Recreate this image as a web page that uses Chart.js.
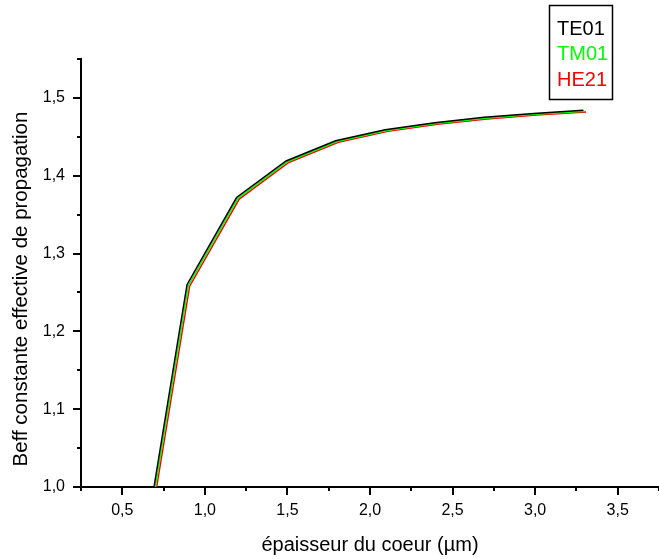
<!DOCTYPE html>
<html lang="fr">
<head>
<meta charset="UTF-8">
<title>Beff</title>
<script src="https://cdn.jsdelivr.net/npm/chart.js@4/dist/chart.umd.min.js"></script>
<style>
  body { margin: 0; background: #fff; }
</style>
</head>
<body>
<canvas id="chart" width="659" height="559"></canvas>
<script>
// epaisseur du coeur (um), one list per mode (the curves sit a hair apart)
var xTE01 = [0.692, 0.892, 1.192, 1.492, 1.792, 2.092, 2.392, 2.692, 2.992, 3.292];
var xTM01 = [0.700, 0.900, 1.200, 1.500, 1.800, 2.100, 2.400, 2.700, 3.000, 3.300];
var xHE21 = [0.708, 0.908, 1.208, 1.508, 1.808, 2.108, 2.408, 2.708, 3.008, 3.308];
// Beff
var yTE01 = [1.000, 1.260, 1.372, 1.419, 1.445, 1.459, 1.468, 1.475, 1.480, 1.484];
var yTM01 = [1.000, 1.259, 1.371, 1.418, 1.444, 1.458, 1.467, 1.474, 1.479, 1.483];
var yHE21 = [1.000, 1.258, 1.370, 1.417, 1.443, 1.457, 1.466, 1.473, 1.478, 1.482];

var modes = ['TE01', 'TM01', 'HE21'];
var xTicks = [0.5, 1.0, 1.5, 2.0, 2.5, 3.0, 3.5];
var xMinor = [0.25, 0.75, 1.25, 1.75, 2.25, 2.75, 3.25, 3.75];
var yTicks = [1.0, 1.1, 1.2, 1.3, 1.4, 1.5];
var yMinor = [1.05, 1.15, 1.25, 1.35, 1.45, 1.55];
var yTitle = 'Beff constante effective de propagation';

var FONT = "'Liberation Sans', Arial, sans-serif";

function pts(xs, ys) {
    var out = [];
    for (var i = 0; i < xs.length; i++) out.push({x: xs[i], y: ys[i]});
    return out;
}

function comma(v) {
    return v.toFixed(1).replace('.', ',');
}

// tick marks drawn outside the axes, long for labelled values, short between
var tickMarks = {
    id: 'tickMarks',
    afterDraw: function (chart) {
        var ctx = chart.ctx;
        var xs = chart.scales.x, ys = chart.scales.y;
        var a = chart.chartArea;
        ctx.save();
        ctx.strokeStyle = '#000';
        ctx.lineWidth = 2;
        ctx.beginPath();
        xTicks.forEach(function (v) {
            var p = Math.round(xs.getPixelForValue(v));
            ctx.moveTo(p, a.bottom); ctx.lineTo(p, a.bottom + 8);
        });
        xMinor.forEach(function (v) {
            var p = Math.round(xs.getPixelForValue(v));
            ctx.moveTo(p, a.bottom); ctx.lineTo(p, a.bottom + 4);
        });
        yTicks.forEach(function (v) {
            var p = Math.round(ys.getPixelForValue(v));
            ctx.moveTo(a.left - 8, p); ctx.lineTo(a.left, p);
        });
        yMinor.forEach(function (v) {
            var p = Math.round(ys.getPixelForValue(v));
            ctx.moveTo(a.left - 4, p); ctx.lineTo(a.left, p);
        });
        ctx.stroke();

        // y title sits a little below the middle of the axis in the original
        ctx.translate(21, 289);
        ctx.rotate(-Math.PI / 2);
        ctx.font = '20.5px ' + FONT;
        ctx.fillStyle = '#000';
        ctx.textAlign = 'center';
        ctx.textBaseline = 'middle';
        ctx.fillText(yTitle, 0, 0);
        ctx.restore();
    }
};

// boxed legend in the top right corner, text in the series colour
var boxLegend = {
    id: 'boxLegend',
    afterDraw: function (chart) {
        var ctx = chart.ctx;
        ctx.save();
        ctx.fillStyle = '#fff';
        ctx.fillRect(549, 5, 64, 95);
        ctx.strokeStyle = '#000';
        ctx.lineWidth = 1.5;
        ctx.strokeRect(549.5, 5.5, 63, 94);
        ctx.font = '20px ' + FONT;
        ctx.textBaseline = 'middle';
        chart.data.datasets.forEach(function (ds, i) {
            ctx.fillStyle = ds.borderColor;
            ctx.fillText(ds.label, 557, 29 + i * 25.5);
        });
        ctx.restore();
    }
};

var ctx = document.getElementById('chart').getContext('2d');
var chart = new Chart(ctx, {
    type: 'line',
    data: {
        datasets: [
            {label: modes[0], data: pts(xTE01, yTE01), borderColor: '#000000'},
            {label: modes[1], data: pts(xTM01, yTM01), borderColor: '#00ff00'},
            {label: modes[2], data: pts(xHE21, yHE21), borderColor: '#ff0000'}
        ]
    },
    options: {
        responsive: false,
        animation: false,
        devicePixelRatio: 1,
        layout: {padding: {top: 59, right: 0, left: 0, bottom: 0}},
        elements: {
            line: {borderWidth: 1.5, tension: 0, fill: false},
            point: {radius: 0}
        },
        plugins: {legend: {display: false}, tooltip: {enabled: false}},
        scales: {
            x: {
                type: 'linear',
                min: 0.25,
                max: 3.75,
                afterBuildTicks: function (s) { s.ticks = xTicks.map(function (v) { return {value: v}; }); },
                afterFit: function (s) { s.height = 72; },
                grid: {display: false, drawTicks: false},
                border: {display: true, color: '#000', width: 2},
                ticks: {
                    color: '#000', padding: 14, maxRotation: 0,
                    font: {family: FONT, size: 16},
                    callback: function (v) { return comma(v); }
                },
                title: {
                    display: true, text: 'épaisseur du coeur (\u00b5m)', color: '#000',
                    font: {family: FONT, size: 20}, padding: {top: 0, bottom: 2}
                }
            },
            y: {
                type: 'linear',
                min: 1.0,
                max: 1.55,
                afterBuildTicks: function (s) { s.ticks = yTicks.map(function (v) { return {value: v}; }); },
                afterFit: function (s) { s.width = 81; },
                grid: {display: false, drawTicks: false},
                border: {display: true, color: '#000', width: 2},
                ticks: {
                    color: '#000', padding: 16,
                    font: {family: FONT, size: 16},
                    callback: function (v) { return comma(v); }
                },
                title: {display: false}
            }
        }
    },
    plugins: [tickMarks, boxLegend]
});
</script>
</body>
</html>
